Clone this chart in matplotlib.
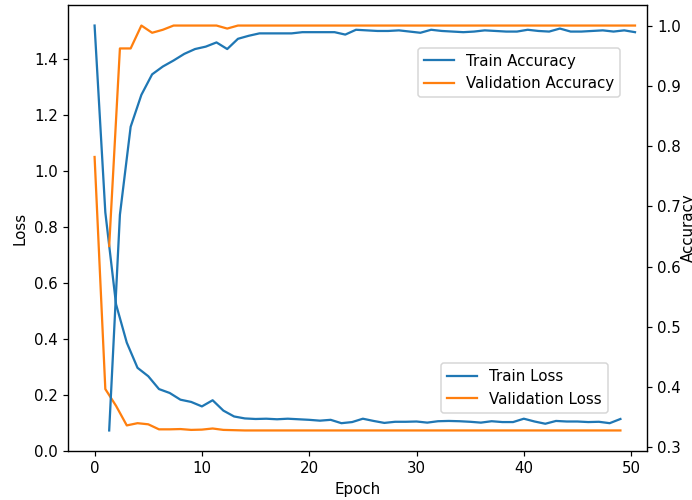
import matplotlib
matplotlib.use("Agg")
import matplotlib.pyplot as plt
import numpy as np

epochs = list(range(50))

train_loss = [1.52, 0.852, 0.523, 0.386, 0.296, 0.266, 0.220, 0.206, 0.182, 0.174,
              0.158, 0.180, 0.143, 0.122, 0.115, 0.113, 0.114, 0.112, 0.114, 0.112,
              0.110, 0.107, 0.110, 0.098, 0.102, 0.114, 0.106, 0.099, 0.103, 0.103,
              0.104, 0.100, 0.105, 0.106, 0.105, 0.103, 0.100, 0.105, 0.102, 0.102,
              0.114, 0.104, 0.096, 0.106, 0.104, 0.104, 0.102, 0.103, 0.098, 0.113]

val_loss = [1.05, 0.220, 0.160, 0.090, 0.098, 0.094, 0.076, 0.076, 0.077, 0.074,
            0.075, 0.079, 0.074, 0.073, 0.072, 0.072, 0.072, 0.072, 0.072, 0.072,
            0.072, 0.072, 0.072, 0.072, 0.072, 0.072, 0.072, 0.072, 0.072, 0.072,
            0.072, 0.072, 0.072, 0.072, 0.072, 0.072, 0.072, 0.072, 0.072, 0.072,
            0.072, 0.072, 0.072, 0.072, 0.072, 0.072, 0.072, 0.072, 0.072, 0.072]

train_acc = [0.328, 0.686, 0.832, 0.885, 0.919, 0.932, 0.942, 0.953, 0.961, 0.965,
             0.972, 0.961, 0.978, 0.983, 0.987, 0.987, 0.987, 0.987, 0.989, 0.989,
             0.989, 0.989, 0.985, 0.993, 0.992, 0.991, 0.991, 0.992, 0.990, 0.988,
             0.993, 0.991, 0.990, 0.989, 0.990, 0.992, 0.991, 0.990, 0.990, 0.993,
             0.991, 0.990, 0.995, 0.990, 0.990, 0.991, 0.992, 0.990, 0.992, 0.989]

val_acc = [0.634, 0.962, 0.962, 1.0, 0.988, 0.993, 1.0, 1.0, 1.0, 1.0,
           1.0, 0.995, 1.0, 1.0, 1.0, 1.0, 1.0, 1.0, 1.0, 1.0,
           1.0, 1.0, 1.0, 1.0, 1.0, 1.0, 1.0, 1.0, 1.0, 1.0,
           1.0, 1.0, 1.0, 1.0, 1.0, 1.0, 1.0, 1.0, 1.0, 1.0,
           1.0, 1.0, 1.0, 1.0, 1.0, 1.0, 1.0, 1.0, 1.0, 1.0]

acc_shift = 1.36
acc_epochs = np.array(epochs) + acc_shift

DPI = 108
fig = plt.figure(figsize=(692 / DPI, 500 / DPI), dpi=DPI)
ax1 = fig.add_axes([68.3 / 692, 1 - 450.7 / 500, (646.7 - 68.3) / 692, (450.7 - 5.3) / 500])

ax1.plot(epochs, train_loss, color="C0", label="Train Loss")
ax1.plot(epochs, val_loss, color="C1", label="Validation Loss")
ax1.set_xlabel("Epoch")
ax1.set_ylabel("Loss")

ax2 = ax1.twinx()
ax2.plot(acc_epochs, train_acc, color="C0", label="Train Accuracy")
ax2.plot(acc_epochs, val_acc, color="C1", label="Validation Accuracy")
ax2.set_ylabel("Accuracy", labelpad=0)

ax1.set_xlim(-2.45, 51.45)

ax1.legend(loc="lower right", bbox_to_anchor=(0.9326, 0.0853), borderaxespad=0)
ax2.legend(loc="upper right", bbox_to_anchor=(0.954, 0.905), borderaxespad=0)

fig.savefig("out.png", dpi=DPI)
